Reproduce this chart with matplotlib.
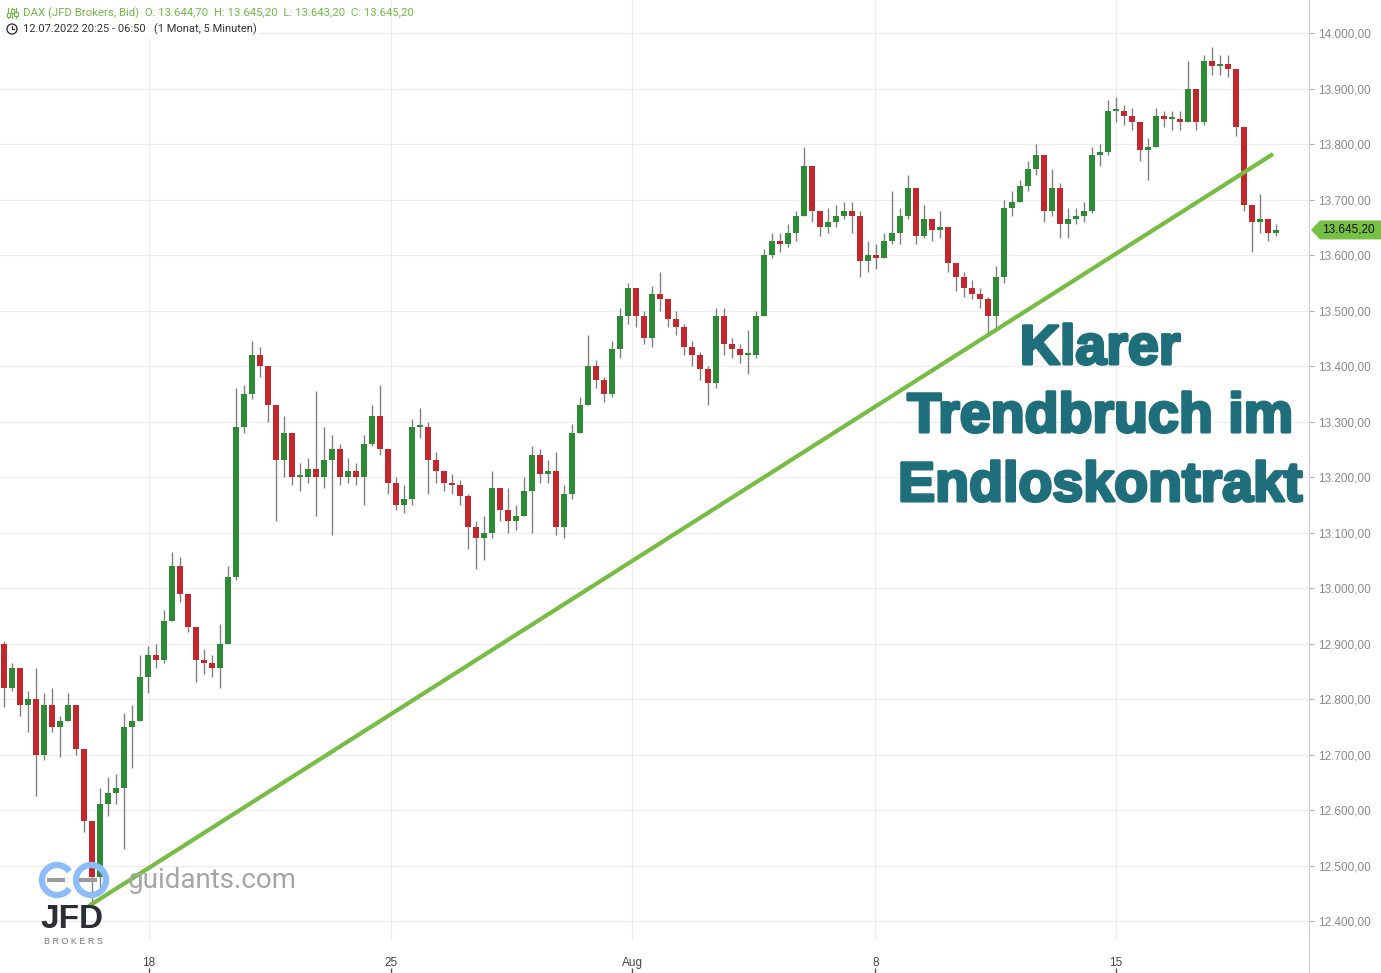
import matplotlib
matplotlib.use('Agg')
import matplotlib.pyplot as plt
import matplotlib.patheffects as pe
from matplotlib.patches import Polygon, Arc, Circle, Rectangle
from matplotlib.lines import Line2D
import numpy as np

# 4h candles (DAX, JFD Brokers, 12.07. - 18.08.2022)
first_open = 12900
closes = [12820, 12855, 12790, 12800, 12700, 12790, 12750, 12760, 12790, 12710,
          12580, 12480, 12610, 12630, 12640, 12750, 12760, 12840, 12880, 12870,
          12940, 13040, 12990, 12930, 12870, 12865, 12855, 12900, 13020, 13290,
          13350, 13420, 13400, 13330, 13230, 13280, 13200, 13200, 13215, 13200,
          13230, 13250, 13200, 13210, 13200, 13260, 13310, 13250, 13190, 13150,
          13160, 13290, 13290, 13230, 13210, 13190, 13185, 13165, 13110, 13090,
          13100, 13180, 13140, 13120, 13130, 13175, 13240, 13205, 13210, 13110,
          13170, 13280, 13330, 13400, 13375, 13350, 13430, 13490, 13540, 13490,
          13450, 13530, 13520, 13485, 13470, 13435, 13420, 13395, 13370, 13490,
          13440, 13430, 13420, 13420, 13490, 13600, 13625, 13620, 13640, 13670,
          13760, 13680, 13650, 13660, 13670, 13680, 13670, 13590, 13600, 13595,
          13625, 13640, 13670, 13720, 13635, 13665, 13645, 13650, 13585, 13560,
          13540, 13530, 13520, 13490, 13560, 13685, 13695, 13725, 13755, 13780,
          13680, 13720, 13655, 13665, 13670, 13680, 13780, 13785, 13860, 13860,
          13850, 13840, 13790, 13795, 13850, 13845, 13845, 13840, 13900, 13840,
          13950, 13940, 13945, 13935, 13830, 13690, 13660, 13665, 13640, 13645.2]
highs = [12905, 12865, 12850, 12815, 12855, 12810, 12820, 12770, 12810, 12790,
         12700, 12580, 12640, 12660, 12665, 12775, 12790, 12880, 12895, 12900,
         12960, 13065, 13055, 12990, 12920, 12890, 12880, 12935, 13040, 13360,
         13365, 13445, 13435, 13400, 13290, 13310, 13260, 13225, 13235, 13355,
         13290, 13275, 13260, 13235, 13225, 13275, 13330, 13365, 13240, 13200,
         13185, 13305, 13325, 13300, 13245, 13210, 13205, 13195, 13170, 13120,
         13130, 13210, 13175, 13180, 13150, 13200, 13255, 13250, 13230, 13245,
         13185, 13295, 13345, 13455, 13410, 13380, 13445, 13505, 13550, 13520,
         13500, 13545, 13570, 13515, 13500, 13475, 13445, 13425, 13400, 13505,
         13505, 13450, 13440, 13465, 13500, 13610, 13640, 13640, 13655, 13680,
         13795, 13760, 13680, 13685, 13690, 13695, 13695, 13680, 13625, 13620,
         13640, 13715, 13685, 13745, 13700, 13690, 13665, 13680, 13640, 13580,
         13570, 13555, 13540, 13525, 13580, 13700, 13715, 13735, 13770, 13800,
         13775, 13755, 13730, 13685, 13685, 13695, 13795, 13800, 13880, 13885,
         13870, 13865, 13815, 13810, 13865, 13860, 13860, 13860, 13950, 13900,
         13960, 13975, 13960, 13960, 13935, 13810, 13690, 13710, 13660, 13655]
lows = [12785, 12815, 12770, 12740, 12625, 12690, 12740, 12695, 12765, 12700,
        12560, 12430, 12460, 12590, 12610, 12530, 12675, 12800, 12810, 12855,
        12865, 12945, 12975, 12920, 12830, 12845, 12840, 12820, 12920, 13015,
        13280, 13340, 13380, 13300, 13120, 13200, 13185, 13175, 13190, 13130,
        13180, 13095, 13185, 13190, 13185, 13150, 13255, 13240, 13170, 13140,
        13135, 13150, 13270, 13170, 13190, 13175, 13170, 13150, 13070, 13035,
        13050, 13090, 13120, 13100, 13105, 13130, 13100, 13190, 13190, 13095,
        13090, 13160, 13290, 13330, 13360, 13335, 13345, 13415, 13475, 13470,
        13440, 13435, 13500, 13470, 13455, 13420, 13400, 13375, 13330, 13360,
        13420, 13415, 13405, 13385, 13415, 13490, 13595, 13605, 13615, 13625,
        13690, 13660, 13635, 13640, 13650, 13665, 13640, 13560, 13570, 13575,
        13600, 13620, 13620, 13665, 13620, 13630, 13625, 13630, 13570, 13535,
        13525, 13520, 13505, 13460, 13465, 13550, 13670, 13695, 13715, 13745,
        13660, 13670, 13630, 13630, 13655, 13660, 13675, 13760, 13780, 13840,
        13835, 13825, 13770, 13735, 13800, 13830, 13825, 13825, 13840, 13825,
        13835, 13925, 13925, 13920, 13815, 13680, 13605, 13640, 13625, 13635]

date_tick_pos = [18.1, 48.4, 78.5, 108.9, 139.0]
date_tick_labels = ['18', '25', 'Aug', '8', '15']
price_ticks = list(range(12400, 14001, 100))

# trend line drawn by hand on the chart (candle index, price)
trend_x = [10.6, 158.6]
trend_y = [12427, 13782]

header_1 = 'DAX (JFD Brokers, Bid)  O: 13.644,70  H: 13.645,20  L: 13.643,20  C: 13.645,20'
header_2 = '12.07.2022 20:25 - 06:50   (1 Monat, 5 Minuten)'
title_lines = ['Klarer', 'Trendbruch im', 'Endloskontrakt']


def de_fmt(v):
    s = f'{v:,.2f}'
    return s.replace(',', 'X').replace('.', ',').replace('X', '.')


W, H = 1381, 973
fig = plt.figure(figsize=(W / 100, H / 100), dpi=100)
inch = fig.dpi_scale_trans


def px(x, y):
    # pixel coords (top-left origin) -> inches for dpi_scale_trans
    return (x / 100, (H - y) / 100)


ax = fig.add_axes([0, 33 / H, 1309 / W, 940 / H])

closes = np.array(closes, dtype=float)
opens = np.concatenate([[first_open], closes[:-1]])
highs = np.maximum(np.array(highs, dtype=float), np.maximum(opens, closes))
lows = np.minimum(np.array(lows, dtype=float), np.minimum(opens, closes))
idx = np.arange(len(closes))

up = closes >= opens
body_col = np.where(up, '#2e8b35', '#c1272d')
ax.vlines(idx, lows, highs, color='#808080', lw=1.0, zorder=2)
body_h = np.where(np.abs(closes - opens) < 3, 3, closes - opens)
ax.bar(idx, body_h, bottom=opens, width=0.75, color=body_col, zorder=3)

ax.plot(trend_x, trend_y, color='#77bd43', lw=3, solid_capstyle='butt', zorder=4)

ax.set_xlim(-0.5, 163.1)
ax.set_ylim(12365.8, 14059.5)

ax.set_yticks(price_ticks)
ax.set_yticklabels([de_fmt(v) for v in price_ticks], fontsize=8.5,
                   color='#8a8a8a', family='Liberation Sans')
ax.yaxis.tick_right()
ax.tick_params(axis='y', length=3.5, color='#b0b0b0', pad=3)

ax.set_xticks(date_tick_pos)
ax.set_xticklabels(date_tick_labels, fontsize=8.5, color='#444444',
                   family='Liberation Sans')
ax.tick_params(axis='x', length=0, pad=12)

sec = ax.secondary_xaxis(-28 / 940)
sec.set_xticks(date_tick_pos)
sec.set_xticklabels([])
sec.tick_params(length=4, color='#555555', width=1)
sec.spines['bottom'].set_visible(False)

ax.grid(True, color='#ececec', lw=0.8, zorder=0)
ax.set_axisbelow(True)
for s in ['top', 'left', 'bottom']:
    ax.spines[s].set_visible(False)
ax.spines['right'].set_color('#d0d0d0')
fig.add_artist(Line2D([1309 / 100, 1309 / 100], [0, H / 100], transform=inch,
                      color='#d0d0d0', lw=0.8))

# last price marker on the right axis
fig.canvas.draw()
yl = ax.transData.transform((0, closes[-1]))[1] / 100
x0 = 1311 / 100
fig.add_artist(Polygon([(x0, yl), (x0 + 0.09, yl + 0.095), (W / 100, yl + 0.095),
                        (W / 100, yl - 0.095), (x0 + 0.09, yl - 0.095)],
                       closed=True, transform=inch, fc='#76c043', ec='none', zorder=5))
fig.text(1322 / 100, yl, de_fmt(closes[-1]), transform=inch, fontsize=8.5,
         color='#111111', va='center', ha='left', family='Liberation Sans', zorder=6)

# header
fig.add_artist(Rectangle(px(0, 38), 258 / 100, 38 / 100, transform=inch,
                         fc='white', ec='none', zorder=4))
for xx, y1, y2 in [(8, 8, 18), (12, 8, 18), (16, 8, 18)]:
    fig.add_artist(Line2D([xx / 100] * 2, [(H - y1) / 100, (H - y2) / 100],
                          transform=inch, color='#6dbb45', lw=0.8, zorder=5))
for xx, yy in [(8, 15), (12, 11), (16, 14)]:
    fig.add_artist(Rectangle(px(xx - 1.5, yy + 2), 3 / 100, 4 / 100, transform=inch,
                             fc='white', ec='#6dbb45', lw=0.8, zorder=6))
fig.text(*px(23, 13), header_1, transform=inch, fontsize=8.2, color='#6dbb45',
         va='center', ha='left', family='Roboto', zorder=6)
fig.add_artist(Circle(px(12, 29), 0.05, transform=inch, fc='none', ec='#333333',
                      lw=1, zorder=5))
fig.add_artist(Line2D([0.12, 0.12, 0.145], [(H - 26) / 100, (H - 29) / 100, (H - 29) / 100],
                      transform=inch, color='#333333', lw=0.9, zorder=5))
fig.text(*px(23, 29), header_2, transform=inch, fontsize=8, color='#333333',
         va='center', ha='left', family='Roboto', zorder=6)

# annotation text
for line, yy in zip(title_lines, [350, 418, 487]):
    fig.text(*px(1100, yy), line, transform=inch, fontsize=40, fontweight='bold',
             family='Liberation Sans', color='#1f6e7b', ha='center', va='center',
             path_effects=[pe.withStroke(linewidth=2.2, foreground='#1f6e7b')], zorder=6)

# guidants / JFD logo
blue = '#8dbdf8'
fig.add_artist(Arc(px(57, 880), 0.3, 0.3, theta1=35, theta2=325, transform=inch,
                   color=blue, lw=4.5, zorder=6))
fig.add_artist(Circle(px(91, 880), 0.15, transform=inch, fc='none', ec=blue,
                      lw=4.5, zorder=6))
for xa, xb in [(49, 63), (81, 95)]:
    fig.add_artist(Line2D([xa / 100, xb / 100], [(H - 880) / 100] * 2, transform=inch,
                          color='#9a9a9a', lw=3, zorder=7))
fig.text(*px(128, 880), 'guidants.com', transform=inch, fontsize=20,
         color='#a5a5a5', ha='left', va='center', family='Roboto', zorder=6)
fig.text(*px(72, 920), 'JFD', transform=inch, fontsize=24, fontweight='bold',
         color='#2b2f33', ha='center', va='center', family='Liberation Sans', zorder=6)
fig.text(*px(73, 941), 'B R O K E R S', transform=inch, fontsize=6.5, color='#777777',
         ha='center', va='center', family='Liberation Sans', zorder=6)

fig.savefig('out.png', dpi=100)
